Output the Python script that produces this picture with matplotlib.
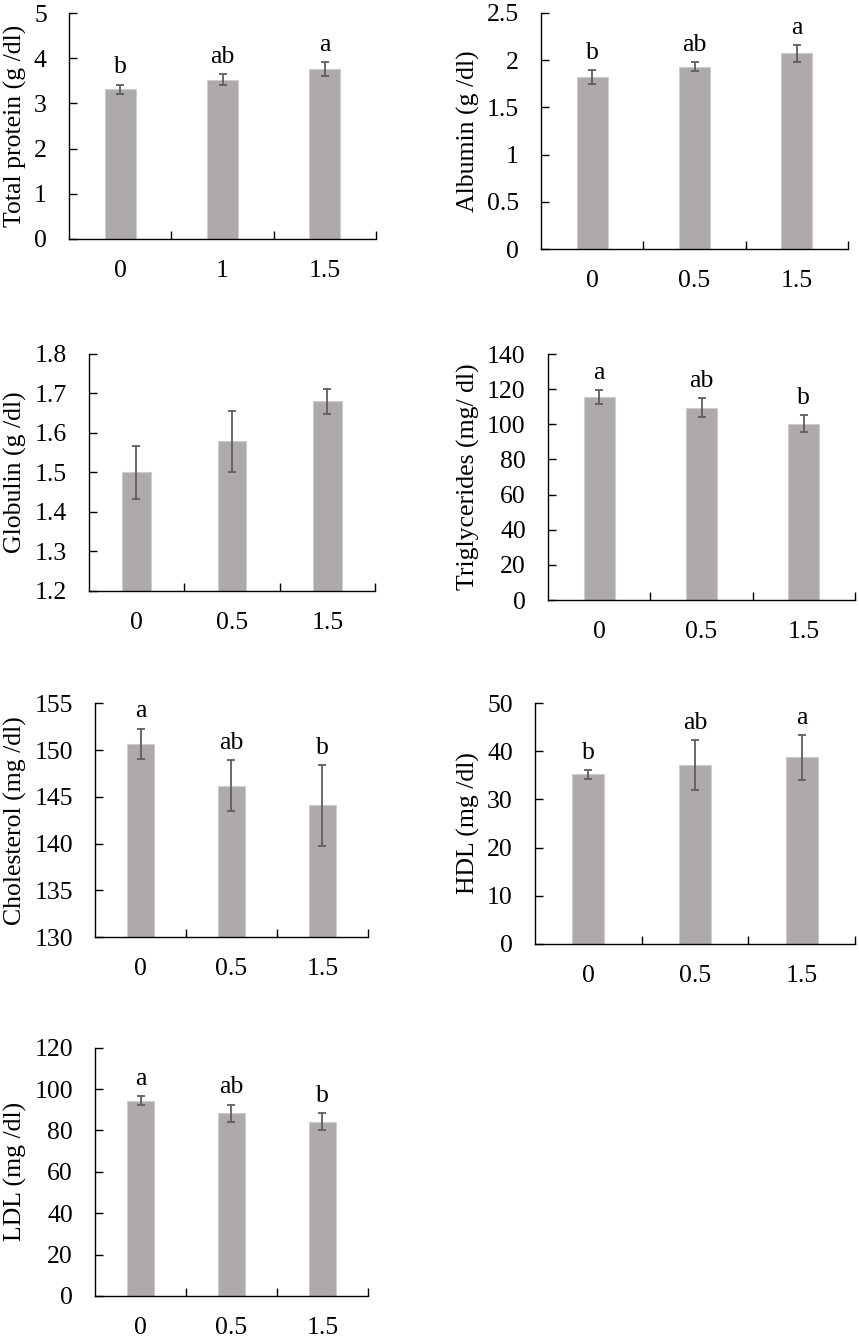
import matplotlib
matplotlib.use('Agg')
import matplotlib.pyplot as plt
import matplotlib.transforms as mtransforms

plt.rcParams['font.family'] = ['Liberation Serif', 'DejaVu Serif']

# doses on the x axis
doses_tp = ['0', '1', '1.5']
doses = ['0', '0.5', '1.5']

# means, error bars and significance letters per panel
total_protein = [3.32, 3.53, 3.76]
total_protein_err = [0.10, 0.12, 0.15]
total_protein_sig = ['b', 'ab', 'a']

albumin = [1.817, 1.93, 2.07]
albumin_err = [0.075, 0.05, 0.09]
albumin_sig = ['b', 'ab', 'a']

globulin = [1.50, 1.579, 1.68]
globulin_err = [0.068, 0.077, 0.032]
globulin_sig = ['', '', '']

triglycerides = [115.4, 109.5, 100.4]
triglycerides_err = [4.0, 5.2, 4.8]
triglycerides_sig = ['a', 'ab', 'b']

cholesterol = [150.7, 146.2, 144.1]
cholesterol_err = [1.6, 2.7, 4.3]
cholesterol_sig = ['a', 'ab', 'b']

hdl = [35.2, 37.1, 38.8]
hdl_err = [1.0, 5.2, 4.65]
hdl_sig = ['b', 'ab', 'a']

ldl = [94.4, 88.2, 84.2]
ldl_err = [2.25, 4.3, 4.1]
ldl_sig = ['a', 'ab', 'b']

W, H = 859, 1339
fig = plt.figure(figsize=(W / 100, H / 100), dpi=100)

# (pixel box x0, x1, ytop, ybottom), label x, data, ylim, ystep, ylabel, xlabels
panels = [
    ((69, 376, 13.3, 238.7), 15, total_protein, total_protein_err, total_protein_sig,
     (0, 5), 1, 'Total protein (g /dl)', doses_tp, '{:g}'),
    ((541, 848, 12.7, 249.3), 468, albumin, albumin_err, albumin_sig,
     (0, 2.5), 0.5, 'Albumin (g /dl)', doses, '{:g}'),
    ((88.7, 375, 354, 590.7), 15, globulin, globulin_err, globulin_sig,
     (1.2, 1.8), 0.1, 'Globulin (g /dl)', doses, '{:.1f}'),
    ((548, 855, 354, 600), 468, triglycerides, triglycerides_err, triglycerides_sig,
     (0, 140), 20, 'Triglycerides (mg/ dl)', doses, '{:g}'),
    ((95.3, 367.7, 703.3, 937.3), 15, cholesterol, cholesterol_err, cholesterol_sig,
     (130, 155), 5, 'Cholesterol (mg /dl)', doses, '{:g}'),
    ((535, 855, 703.3, 943.7), 468, hdl, hdl_err, hdl_sig,
     (0, 50), 10, 'HDL (mg /dl)', doses, '{:g}'),
    ((95.3, 367.7, 1047.7, 1296), 15, ldl, ldl_err, ldl_sig,
     (0, 120), 20, 'LDL (mg /dl)', doses, '{:g}'),
]

fs = 18.5
for box, labx, vals, errs, sig, ylim, step, ylab, xlabs, fmt in panels:
    x0, x1, yt, yb = box
    ax = fig.add_axes([x0 / W, 1 - yb / H, (x1 - x0) / W, (yb - yt) / H])
    xs = range(len(vals))
    ax.bar(xs, vals, width=0.3, color='#aeaaa9', edgecolor='#cfcccb', linewidth=0.8,
           zorder=2)
    ax.errorbar(xs, vals, yerr=errs, fmt='none', ecolor='#5e5e5e', elinewidth=1.3,
                capsize=3, capthick=1.3, zorder=3)
    for x, v, e, s in zip(xs, vals, errs, sig):
        if s:
            ax.annotate(s, (x, v + e), xytext=(0, 8), textcoords='offset points',
                        ha='center', va='baseline', fontsize=fs)
    ax.set_xlim(-0.5, 2.5)
    ax.set_ylim(*ylim)
    n = int(round((ylim[1] - ylim[0]) / step))
    yt_vals = [ylim[0] + i * step for i in range(n + 1)]
    ax.set_yticks(yt_vals)
    ax.set_yticklabels([fmt.format(round(v, 3)) for v in yt_vals])
    ax.set_xticks([0.5, 1.5, 2.5])
    ax.set_xticklabels([])
    ax.set_xticks([0, 1, 2], minor=True)
    ax.set_xticklabels(xlabs, minor=True)
    ax.tick_params(axis='x', which='major', direction='in', length=6, width=1)
    ax.tick_params(axis='x', which='minor', length=0, pad=15, labelsize=fs)
    ax.tick_params(axis='y', direction='in', length=6, width=1, pad=16, labelsize=fs)
    for sp in ['top', 'right']:
        ax.spines[sp].set_visible(False)
    for sp in ['left', 'bottom']:
        ax.spines[sp].set_linewidth(1.0)
    ax.set_ylabel(ylab, fontsize=fs, va='center')
    trans = mtransforms.blended_transform_factory(fig.transFigure, ax.transAxes)
    ax.yaxis.set_label_coords(labx / W, 0.5, transform=trans)

fig.savefig('out.png', dpi=100)
